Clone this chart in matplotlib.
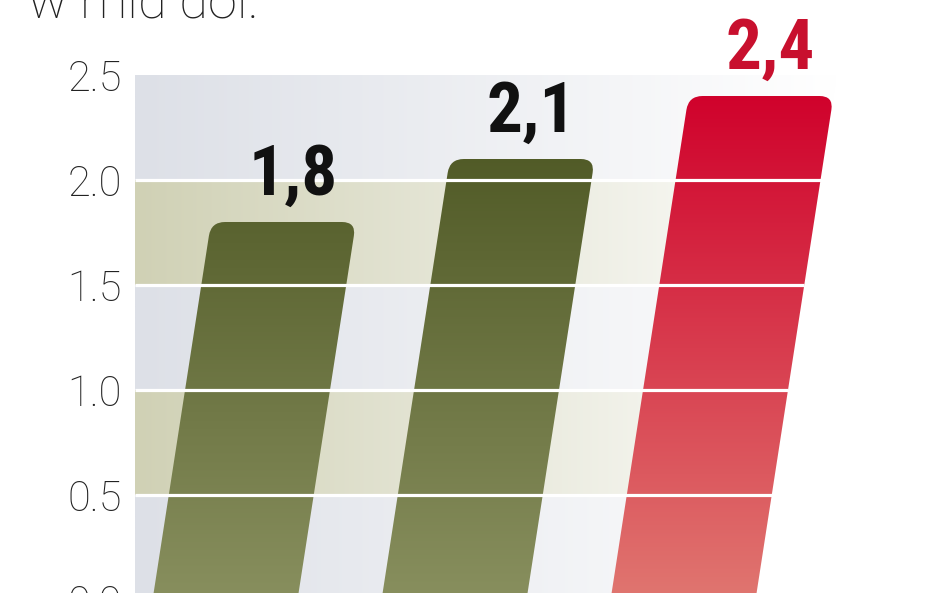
import numpy as np
import matplotlib
matplotlib.use("Agg")
import matplotlib.pyplot as plt
from matplotlib.path import Path
from matplotlib.patches import PathPatch, Polygon
from matplotlib.colors import LinearSegmentedColormap
from matplotlib import font_manager

# data
values = [1.8, 2.1, 2.4]
value_labels = ['1,8', '2,1', '2,4']
yticks = [0.0, 0.5, 1.0, 1.5, 2.0, 2.5]
ytick_labels = ['0.0', '0.5', '1.0', '1.5', '2.0', '2.5']
unit_text = 'w mld dol.'

# look
bar_colors = [('#888f5e', '#4a5420'), ('#888f5e', '#4a5420'), ('#e07670', '#d0022c')]
label_colors = ['#111111', '#111111', '#c8102e']
band_colors = ['#dde0e7', '#d0d1b5']  # alternating: grey-blue, tan
bar_w = 0.633
slant = 0.142  # x shift per unit of value

names = {f.name for f in font_manager.fontManager.ttflist}


def pick(*cands):
    for c in cands:
        if c in names:
            return c
    return 'DejaVu Sans'


bold_font = pick('Liberation Sans Narrow', 'Roboto Condensed', 'DejaVu Sans')
thin_font = pick('Roboto', 'Lato', 'Open Sans', 'DejaVu Sans')

fig = plt.figure(figsize=(9.48, 5.93), dpi=100)
ax = fig.add_axes([135 / 948, -7 / 593, (948 - 135) / 948, 525 / 593])
xlim = ((135 - 225) / 229, (948 - 225) / 229)
ylim = (0, 2.5)
ax.set_xlim(*xlim)
ax.set_ylim(*ylim)
for s in ax.spines.values():
    s.set_visible(False)
ax.set_xticks([])
ax.set_yticks(yticks, ytick_labels)
ax.tick_params(axis='y', length=0, pad=9.5, labelsize=30, labelcolor='#222222')
for t in ax.get_yticklabels():
    t.set_fontfamily(thin_font)
    t.set_fontweight('light')

# background area: from left edge to the slanted right edge of the last bar
right_base = len(values) - 1 + bar_w / 2
bg_clip = Polygon([(xlim[0], 0), (right_base, 0), (right_base + slant * ylim[1], ylim[1]),
                   (xlim[0], ylim[1])], closed=True, transform=ax.transData)
grad_h = np.linspace(0, 1, 256)[None, :]
for k in range(5):
    y0, y1 = k * 0.5, (k + 1) * 0.5
    c = band_colors[k % 2]
    cmap = LinearSegmentedColormap.from_list('b%d' % k, [c, '#ffffff'])
    im = ax.imshow(grad_h, cmap=cmap, extent=[xlim[0], right_base + slant * ylim[1], y0, y1],
                   aspect='auto', origin='lower', interpolation='bilinear', zorder=1)
    im.set_clip_path(bg_clip)


def toward(a, b, d):
    u = (b - a) / np.hypot(*(b - a))
    return a + u * d


def bar_patch(xc, v, r=14):
    pts = [(xc - bar_w / 2, 0), (xc + bar_w / 2, 0),
           (xc + bar_w / 2 + slant * v, v), (xc - bar_w / 2 + slant * v, v)]
    bl, br, tr, tl = ax.transData.transform(pts)
    verts = [bl, br, toward(tr, br, r), tr, toward(tr, tl, r),
             toward(tl, tr, r), tl, toward(tl, bl, r), bl]
    codes = [Path.MOVETO, Path.LINETO, Path.LINETO, Path.CURVE3, Path.CURVE3,
             Path.LINETO, Path.CURVE3, Path.CURVE3, Path.CLOSEPOLY]
    verts = ax.transData.inverted().transform(verts)
    return PathPatch(Path(verts, codes), facecolor='none', edgecolor='none', transform=ax.transData)


for i, v in enumerate(values):
    p = bar_patch(i, v)
    ax.add_patch(p)
    cmap = LinearSegmentedColormap.from_list('bar%d' % i, list(bar_colors[i]))
    grad_v = np.linspace(0, v / 2.4, 256)[:, None]
    im = ax.imshow(grad_v, cmap=cmap, vmin=0, vmax=1,
                   extent=[i - bar_w / 2, i + bar_w / 2 + slant * v, 0, v],
                   aspect='auto', origin='lower', interpolation='bilinear', zorder=2)
    im.set_clip_path(p)
    ax.text(i + slant * v + 0.04, v + 0.13, value_labels[i], ha='center', va='baseline',
            fontsize=51, fontweight='bold', fontfamily=bold_font, color=label_colors[i], zorder=5)

# white grid lines, over the bars, ending at the last bar's edge
for y in yticks[1:-1]:
    ax.plot([xlim[0], right_base + slant * y], [y, y], color='white', lw=2.3,
            solid_capstyle='butt', zorder=3)

ax.set_xlim(*xlim)
ax.set_ylim(*ylim)

fig.text(28 / 948, 1 - 17 / 593, unit_text, ha='left', va='baseline', fontsize=37.7,
         fontfamily=thin_font, fontweight='light', color='#222222')

fig.savefig('out.png', dpi=100)
